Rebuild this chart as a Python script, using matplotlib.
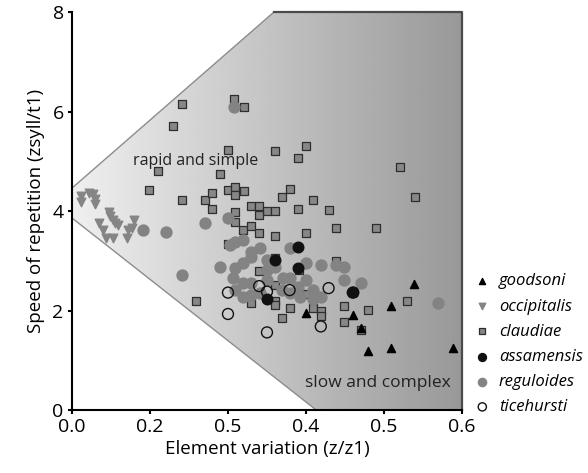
import numpy as np
import matplotlib
matplotlib.use("Agg")
import matplotlib.pyplot as plt
from matplotlib.patches import Polygon

plt.rcParams['font.family'] = ['Open Sans', 'DejaVu Sans']

# tick labels as printed on the original figure
xtick_pos = [0.0, 0.1, 0.2, 0.3, 0.4, 0.5]
xtick_labels = ["0.0", "0.2", "0.5", "0.4", "0.5", "0.6"]
ytick_pos = [0, 2, 4, 6, 8]

# species data (element variation, speed of repetition)
claudiae_x = [0.141, 0.130, 0.208, 0.220, 0.200, 0.300, 0.260, 0.290, 0.110, 0.190,
              0.099, 0.141, 0.170, 0.180, 0.180, 0.200, 0.209, 0.220, 0.209, 0.420,
              0.440, 0.230, 0.240, 0.250, 0.260, 0.269, 0.280, 0.290, 0.309, 0.329,
              0.209, 0.240, 0.209, 0.219, 0.230, 0.240, 0.260, 0.300, 0.339, 0.390,
              0.200, 0.260, 0.339, 0.240, 0.260, 0.300, 0.159, 0.230, 0.260, 0.260,
              0.279, 0.269, 0.309, 0.319, 0.319, 0.349, 0.380, 0.349, 0.371, 0.430,
              0.291]
claudiae_y = [6.16, 5.70, 6.25, 6.10, 5.23, 5.31, 5.20, 5.07, 4.80, 4.74,
              4.42, 4.22, 4.22, 4.36, 4.05, 4.42, 4.49, 4.40, 4.32, 4.89,
              4.29, 4.11, 4.11, 4.01, 4.01, 4.29, 4.44, 4.05, 4.22, 4.03,
              3.97, 3.92, 3.77, 3.62, 3.69, 3.55, 3.50, 3.55, 3.66, 3.66,
              3.33, 3.05, 3.00, 2.79, 2.51, 2.33, 2.19, 2.16, 2.19, 2.11,
              2.06, 1.84, 2.06, 1.99, 1.89, 2.09, 2.02, 1.76, 1.61, 2.19,
              2.81]

occipitalis_x = [0.011, 0.011, 0.022, 0.027, 0.029, 0.029, 0.048, 0.049, 0.052, 0.055,
                 0.059, 0.035, 0.040, 0.044, 0.053, 0.070, 0.079, 0.077, 0.072]
occipitalis_y = [4.30, 4.19, 4.37, 4.34, 4.25, 4.15, 3.99, 3.89, 3.82, 3.75,
                 3.72, 3.75, 3.62, 3.45, 3.45, 3.45, 3.82, 3.65, 3.62]

reguloides_x = [0.208, 0.091, 0.121, 0.170, 0.141, 0.200, 0.209, 0.219, 0.203, 0.190,
                0.209, 0.219, 0.230, 0.230, 0.207, 0.219, 0.230, 0.209, 0.219, 0.230,
                0.241, 0.250, 0.250, 0.250, 0.260, 0.270, 0.279, 0.279, 0.290, 0.292,
                0.300, 0.300, 0.309, 0.319, 0.319, 0.339, 0.349, 0.349, 0.371, 0.469,
                0.309, 0.269, 0.241, 0.279]
reguloides_y = [6.10, 3.62, 3.57, 3.75, 2.71, 3.85, 3.38, 3.42, 3.31, 2.88,
                2.85, 2.95, 3.18, 3.08, 2.65, 2.55, 2.55, 2.41, 2.28, 2.31,
                2.35, 2.61, 2.81, 3.02, 2.88, 2.65, 2.66, 3.25, 2.48, 2.28,
                2.95, 2.61, 2.24, 2.28, 2.91, 2.91, 2.88, 2.61, 2.55, 2.16,
                2.41, 2.41, 3.25, 2.35]

assamensis_x = [0.290, 0.290, 0.260, 0.250, 0.360]
assamensis_y = [3.28, 2.86, 3.02, 2.23, 2.37]

goodsoni_x = [0.439, 0.409, 0.360, 0.360, 0.300, 0.371, 0.380, 0.409, 0.489]
goodsoni_y = [2.53, 2.09, 2.37, 1.91, 1.94, 1.64, 1.19, 1.24, 1.24]

ticehursti_x = [0.200, 0.200, 0.240, 0.250, 0.250, 0.279, 0.329, 0.319, 0.360]
ticehursti_y = [2.36, 1.93, 2.49, 2.38, 1.56, 2.41, 2.45, 1.68, 2.36]

# wedge outline (x, y)
wedge_x = [0.0, 0.259, 0.5, 0.5, 0.313, 0.0]
wedge_y = [4.46, 8.0, 8.0, 0.0, 0.0, 3.86]

fig = plt.figure(figsize=(5.88, 4.73), dpi=100)
ax = fig.add_axes([0.1224, 0.1332, 0.6633, 0.8414])
ax.set_xlim(0, 0.5)
ax.set_ylim(0, 8)

# gradient fill clipped to the wedge
grad = np.linspace(0, 1, 256).reshape(1, -1)
img = ax.imshow(grad, extent=[0, 0.5, 0, 8], aspect='auto', cmap='gray_r',
                vmin=-0.18, vmax=2.75, zorder=0, interpolation='bilinear')
wedge = Polygon(list(zip(wedge_x, wedge_y)), closed=True, facecolor='none',
                edgecolor='none')
ax.add_patch(wedge)
img.set_clip_path(wedge)
# edges of the wedge
ax.plot(wedge_x[:2], wedge_y[:2], color='#8c8c8c', lw=1, zorder=1)
ax.plot(wedge_x[4:], wedge_y[4:], color='#8c8c8c', lw=1, zorder=1)
ax.plot(wedge_x[1:4], wedge_y[1:4], color='#4a4a4a', lw=1.6, zorder=1,
        clip_on=False)

ax.text(0.078, 5.0, "rapid and simple", fontsize=11.5, color='#222222', va='center')
ax.text(0.299, 0.55, "slow and complex", fontsize=12.5, color='#222222', va='center')

ax.scatter(goodsoni_x, goodsoni_y, marker='^', s=34, color='black', zorder=4,
           label='goodsoni')
ax.scatter(occipitalis_x, occipitalis_y, marker='v', s=38, color='#858585',
           zorder=3, label='occipitalis')
ax.scatter(claudiae_x, claudiae_y, marker='s', s=36, facecolor='#878787',
           edgecolor='#2e2e2e', linewidth=0.9, zorder=3, label='claudiae')
ax.scatter(assamensis_x, assamensis_y, marker='o', s=58, color='#111111',
           zorder=4, label='assamensis')
ax.scatter(reguloides_x, reguloides_y, marker='o', s=62, color='#838383',
           zorder=3, label='reguloides')
ax.scatter(ticehursti_x, ticehursti_y, marker='o', s=62, facecolor='none',
           edgecolor='#111111', linewidth=1, zorder=4, label='ticehursti')

for side in ['top', 'right']:
    ax.spines[side].set_visible(False)
for side in ['left', 'bottom']:
    ax.spines[side].set_linewidth(1.5)
    ax.spines[side].set_color('black')

ax.set_xticks(xtick_pos)
ax.set_xticklabels(xtick_labels)
ax.set_yticks(ytick_pos)
ax.tick_params(direction='out', length=3, width=1.5, labelsize=14, pad=3)
ax.set_xlabel("Element variation (z/z1)", fontsize=13.5, labelpad=3)
ax.set_ylabel("Speed of repetition (zsyll/t1)", fontsize=13.5, labelpad=5)

leg = ax.legend(loc='center left', bbox_to_anchor=(1.035, 0.165), frameon=False,
                prop={'style': 'italic', 'size': 12}, handlelength=0.8,
                handletextpad=0.6, labelspacing=0.55, borderaxespad=0,
                borderpad=0, markerscale=0.75)

fig.savefig("out.png", dpi=100)
